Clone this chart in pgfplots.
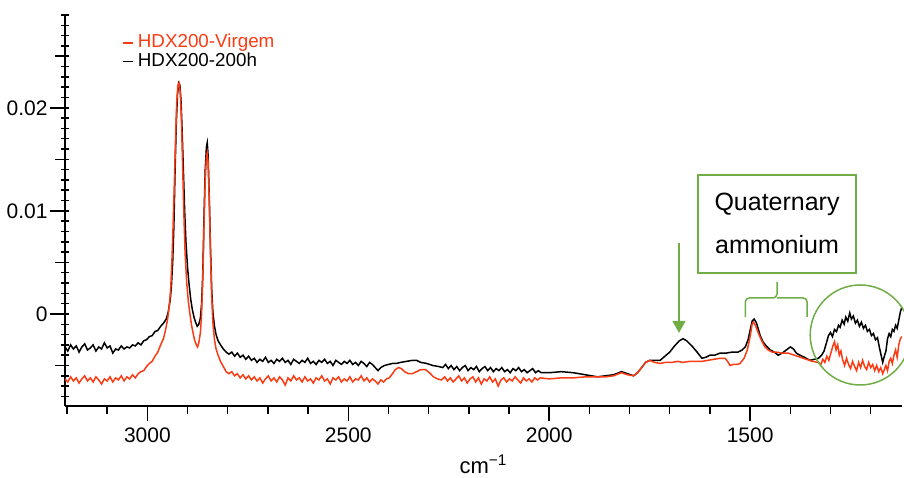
\documentclass[border=0pt]{standalone}
\usepackage{fontspec}
\setmainfont{Liberation Sans}
\usepackage{pgfplots}
\pgfplotsset{compat=1.18}
\usepackage{pgfplotstable}
\usetikzlibrary{arrows.meta}
\definecolor{hdxred}{RGB}{250,60,20}
\definecolor{hdxgreen}{RGB}{112,173,71}

% HDX200-200h (black)
\pgfplotstableread{
x y
3205 -0.0032
3198 -0.0036
3191 -0.0030
3184 -0.0034
3177 -0.0031
3170 -0.0037
3163 -0.0032
3156 -0.0029
3149 -0.0035
3142 -0.0033
3135 -0.0030
3128 -0.0036
3121 -0.0032
3114 -0.0034
3107 -0.0028
3100 -0.0033
3093 -0.0031
3086 -0.0038
3079 -0.0034
3072 -0.0035
3065 -0.0031
3058 -0.0034
3051 -0.0032
3044 -0.0033
3037 -0.0030
3030 -0.0031
3023 -0.0028
3016 -0.0030
3009 -0.0026
3002 -0.0025
2995 -0.0022
2988 -0.0021
2981 -0.0017
2974 -0.0016
2967 -0.0012
2960 -0.0009
2953 -0.0005
2948 0.0002
2943 0.0014
2940 0.0028
2937 0.0050
2934 0.0085
2931 0.0140
2928 0.0185
2925 0.0213
2922 0.0224
2919 0.0222
2916 0.0205
2913 0.0172
2910 0.0135
2907 0.0098
2904 0.0070
2900 0.0045
2896 0.0028
2892 0.0014
2888 0.0004
2884 -0.0003
2880 -0.0008
2876 -0.0012
2872 -0.0010
2868 -0.0004
2865 0.0010
2862 0.0040
2859 0.0095
2856 0.0140
2853 0.0162
2851 0.0166
2849 0.0155
2846 0.0115
2843 0.0065
2840 0.0025
2837 0.0002
2833 -0.0012
2829 -0.0020
2824 -0.0026
2818 -0.0030
2811 -0.0034
2804 -0.0037
2797 -0.0039
2790 -0.0037
2783 -0.0041
2776 -0.0038
2769 -0.0042
2762 -0.0040
2755 -0.0044
2748 -0.0041
2741 -0.0045
2734 -0.0043
2727 -0.0047
2720 -0.0044
2713 -0.0046
2706 -0.0042
2699 -0.0047
2692 -0.0045
2685 -0.0048
2678 -0.0044
2671 -0.0046
2664 -0.0043
2657 -0.0047
2650 -0.0045
2643 -0.0049
2636 -0.0044
2629 -0.0046
2622 -0.0048
2615 -0.0045
2608 -0.0047
2601 -0.0043
2594 -0.0048
2587 -0.0046
2580 -0.0049
2573 -0.0045
2566 -0.0047
2559 -0.0044
2552 -0.0048
2545 -0.0046
2538 -0.0050
2531 -0.0045
2524 -0.0047
2517 -0.0049
2510 -0.0046
2503 -0.0048
2496 -0.0045
2489 -0.0049
2482 -0.0047
2475 -0.0050
2468 -0.0046
2461 -0.0048
2454 -0.0051
2447 -0.0047
2440 -0.0049
2433 -0.0052
2426 -0.0055
2419 -0.0052
2410 -0.0050
2400 -0.0049
2390 -0.0048
2380 -0.0048
2370 -0.0047
2355 -0.0046
2340 -0.0045
2330 -0.0045
2320 -0.0047
2305 -0.0048
2290 -0.0050
2275 -0.0051
2265 -0.0052
2258 -0.0049
2251 -0.0053
2244 -0.0050
2237 -0.0054
2230 -0.0051
2223 -0.0055
2216 -0.0052
2209 -0.0050
2202 -0.0055
2195 -0.0052
2188 -0.0054
2181 -0.0051
2174 -0.0056
2167 -0.0053
2160 -0.0051
2153 -0.0055
2146 -0.0052
2139 -0.0056
2132 -0.0053
2125 -0.0055
2118 -0.0052
2111 -0.0056
2104 -0.0054
2097 -0.0057
2090 -0.0053
2083 -0.0055
2076 -0.0052
2069 -0.0056
2062 -0.0054
2055 -0.0057
2048 -0.0055
2041 -0.0053
2034 -0.0057
2027 -0.0055
2020 -0.0057
2000 -0.0057
1970 -0.0056
1940 -0.0057
1910 -0.0059
1880 -0.0061
1860 -0.0060
1840 -0.0059
1820 -0.0056
1805 -0.0058
1790 -0.0060
1780 -0.0057
1770 -0.0052
1760 -0.0047
1750 -0.0045
1735 -0.0045
1724 -0.0045
1712 -0.0041
1700 -0.0037
1688 -0.0031
1676 -0.0026
1667 -0.0024
1658 -0.0026
1645 -0.0031
1632 -0.0037
1620 -0.0043
1610 -0.0042
1600 -0.0040
1588 -0.0040
1575 -0.0038
1560 -0.0038
1545 -0.0037
1530 -0.0037
1520 -0.0035
1512 -0.0032
1505 -0.0025
1500 -0.0016
1495 -0.0007
1490 -0.0005
1485 -0.0008
1480 -0.0014
1475 -0.0021
1468 -0.0027
1460 -0.0031
1450 -0.0035
1440 -0.0037
1430 -0.0040
1420 -0.0038
1410 -0.0035
1400 -0.0032
1392 -0.0034
1385 -0.0038
1376 -0.0040
1365 -0.0042
1351 -0.0045
1340 -0.0044
1330 -0.0043
1322 -0.0040
1316 -0.0036
1310 -0.0028
1305 -0.0021
1300 -0.0018
1295 -0.0022
1290 -0.0015
1285 -0.0017
1280 -0.0011
1276 -0.0013
1271 -0.0006
1266 -0.0010
1262 -0.0003
1257 -0.0007
1252 0.0001
1248 -0.0005
1243 -0.0002
1238 -0.0009
1233 -0.0006
1228 -0.0012
1223 -0.0008
1218 -0.0014
1213 -0.0011
1208 -0.0017
1203 -0.0015
1198 -0.0021
1193 -0.0019
1188 -0.0025
1183 -0.0023
1178 -0.0033
1174 -0.0040
1170 -0.0047
1166 -0.0041
1162 -0.0036
1158 -0.0024
1154 -0.0019
1150 -0.0022
1146 -0.0015
1142 -0.0017
1138 -0.0011
1134 -0.0014
1130 -0.0006
1126 0.0002
1122 0.0007
}\blackdata

% HDX200-Virgem (red)
\pgfplotstableread{
x y
3205 -0.0063
3198 -0.0066
3191 -0.0061
3184 -0.0065
3177 -0.0062
3170 -0.0067
3163 -0.0063
3156 -0.0060
3149 -0.0065
3142 -0.0062
3135 -0.0066
3128 -0.0061
3121 -0.0064
3114 -0.0068
3107 -0.0063
3100 -0.0065
3093 -0.0061
3086 -0.0066
3079 -0.0062
3072 -0.0064
3065 -0.0060
3058 -0.0065
3051 -0.0061
3044 -0.0063
3037 -0.0059
3030 -0.0062
3023 -0.0058
3016 -0.0056
3009 -0.0055
3002 -0.0051
2995 -0.0048
2988 -0.0046
2981 -0.0041
2974 -0.0037
2967 -0.0030
2960 -0.0024
2955 -0.0016
2950 -0.0006
2946 0.0006
2942 0.0024
2939 0.0050
2936 0.0085
2933 0.0125
2930 0.0168
2927 0.0205
2924 0.0222
2921 0.0224
2918 0.0214
2915 0.0185
2912 0.0140
2909 0.0095
2906 0.0058
2902 0.0030
2898 0.0012
2894 0.0000
2890 -0.0011
2886 -0.0019
2882 -0.0026
2878 -0.0030
2875 -0.0032
2872 -0.0028
2868 -0.0018
2865 0.0000
2862 0.0035
2859 0.0085
2856 0.0130
2853 0.0152
2851 0.0156
2849 0.0148
2846 0.0110
2843 0.0060
2840 0.0018
2837 -0.0008
2833 -0.0025
2829 -0.0034
2824 -0.0040
2818 -0.0046
2811 -0.0051
2804 -0.0056
2797 -0.0058
2790 -0.0056
2783 -0.0060
2776 -0.0058
2769 -0.0062
2762 -0.0059
2755 -0.0063
2748 -0.0060
2741 -0.0064
2734 -0.0061
2727 -0.0065
2720 -0.0062
2713 -0.0067
2706 -0.0063
2699 -0.0060
2692 -0.0065
2685 -0.0062
2678 -0.0066
2671 -0.0061
2664 -0.0064
2657 -0.0069
2650 -0.0062
2643 -0.0065
2636 -0.0060
2629 -0.0064
2622 -0.0062
2615 -0.0066
2608 -0.0061
2601 -0.0065
2594 -0.0063
2587 -0.0067
2580 -0.0062
2573 -0.0064
2566 -0.0060
2559 -0.0065
2552 -0.0063
2545 -0.0068
2538 -0.0062
2531 -0.0064
2524 -0.0061
2517 -0.0066
2510 -0.0063
2503 -0.0065
2496 -0.0061
2489 -0.0066
2482 -0.0063
2475 -0.0064
2468 -0.0060
2461 -0.0065
2454 -0.0062
2447 -0.0066
2440 -0.0063
2433 -0.0065
2426 -0.0068
2419 -0.0064
2412 -0.0066
2405 -0.0063
2398 -0.0062
2390 -0.0058
2383 -0.0054
2375 -0.0052
2368 -0.0053
2360 -0.0056
2350 -0.0058
2341 -0.0058
2330 -0.0056
2320 -0.0054
2308 -0.0054
2298 -0.0057
2288 -0.0061
2278 -0.0063
2268 -0.0064
2260 -0.0061
2253 -0.0065
2246 -0.0062
2239 -0.0066
2232 -0.0063
2225 -0.0060
2218 -0.0065
2211 -0.0062
2204 -0.0067
2197 -0.0063
2190 -0.0061
2183 -0.0066
2176 -0.0062
2169 -0.0068
2162 -0.0063
2155 -0.0065
2148 -0.0061
2141 -0.0066
2134 -0.0063
2127 -0.0070
2120 -0.0064
2113 -0.0062
2106 -0.0066
2099 -0.0063
2092 -0.0065
2085 -0.0061
2078 -0.0064
2071 -0.0067
2064 -0.0062
2057 -0.0065
2050 -0.0063
2043 -0.0066
2036 -0.0062
2029 -0.0064
2022 -0.0062
2000 -0.0063
1970 -0.0062
1940 -0.0062
1910 -0.0061
1880 -0.0061
1860 -0.0061
1840 -0.0060
1820 -0.0057
1805 -0.0059
1790 -0.0060
1780 -0.0057
1770 -0.0052
1760 -0.0047
1750 -0.0045
1738 -0.0047
1724 -0.0048
1710 -0.0047
1695 -0.0047
1680 -0.0046
1667 -0.0047
1650 -0.0046
1635 -0.0046
1620 -0.0046
1605 -0.0045
1590 -0.0044
1575 -0.0043
1562 -0.0043
1556 -0.0046
1550 -0.0050
1542 -0.0049
1532 -0.0049
1525 -0.0048
1515 -0.0043
1507 -0.0035
1500 -0.0022
1495 -0.0010
1492 -0.0008
1488 -0.0010
1484 -0.0014
1478 -0.0020
1470 -0.0027
1463 -0.0032
1455 -0.0035
1445 -0.0037
1435 -0.0037
1420 -0.0038
1405 -0.0038
1390 -0.0040
1375 -0.0042
1360 -0.0044
1345 -0.0046
1330 -0.0047
1324 -0.0049
1319 -0.0044
1314 -0.0047
1309 -0.0041
1304 -0.0045
1299 -0.0038
1294 -0.0031
1290 -0.0027
1286 -0.0035
1282 -0.0030
1278 -0.0040
1274 -0.0036
1270 -0.0044
1265 -0.0050
1260 -0.0043
1255 -0.0049
1250 -0.0053
1245 -0.0046
1240 -0.0051
1235 -0.0055
1230 -0.0047
1225 -0.0052
1220 -0.0045
1215 -0.0051
1210 -0.0054
1205 -0.0047
1200 -0.0052
1195 -0.0049
1190 -0.0055
1185 -0.0050
1180 -0.0056
1175 -0.0052
1170 -0.0058
1166 -0.0054
1162 -0.0050
1158 -0.0055
1154 -0.0046
1150 -0.0043
1146 -0.0048
1142 -0.0040
1138 -0.0035
1134 -0.0042
1130 -0.0030
1126 -0.0024
1122 -0.0022
}\reddata

\begin{document}
\begin{tikzpicture}
\begin{axis}[
    scale only axis,
    width=418.5pt, height=195.5pt,
    x dir=reverse,
    xmin=1122, xmax=3205,
    ymin=-0.00893, ymax=0.0290,
    axis lines*=left,
    axis line style={line width=0.75pt},
    tick style={line width=0.75pt, black},
    tick align=outside,
    major tick length=7.5pt,
    minor tick length=4pt,
    every minor y tick/.append style={xshift=2pt},
    scaled y ticks=false,
    scaled x ticks=false,
    xtick={1500,2000,2500,3000},
    xticklabels={1500,2000,2500,3000},
    minor xtick={1200,1300,...,3200},
    ytick={0,0.01,0.02},
    yticklabels={0,0.01,0.02},
    minor ytick={-0.008,-0.007,...,0.0295},
    extra y ticks={-0.005,0.005,0.015,0.025},
    extra y tick labels={},
    extra y tick style={major tick length=5pt, scaled y ticks=false},
    tick label style={font=\fontsize{10.5}{12}\selectfont},
    yticklabel style={inner sep=1pt},
    /pgf/number format/assume math mode=true,
    xlabel={cm\textsuperscript{−1}},
    xlabel style={at={(axis description cs:0.5,0)}, anchor=center, yshift=-29pt,
        font=\fontsize{11}{13}\selectfont},
    clip mode=individual,
    reverse legend,
    legend style={draw=none, fill=none, at={(0.068,0.953)}, anchor=north west,
        font=\fontsize{9.4}{10}\selectfont, inner sep=0pt, row sep=0pt,
        column sep=1.5pt,
        nodes={inner sep=0.5pt, text height=6.6pt, text depth=1.7pt}},
    legend cell align=left,
    legend image code/.code={\draw[#1, line width=0.8pt] (0pt,0pt) -- (5pt,0pt);},
]
\addplot[black, line width=0.75pt, no markers] table[x=x, y=y] {\blackdata};
\addlegendentry{HDX200-200h}
\addplot[hdxred, line width=0.75pt, no markers] table[x=x, y=y] {\reddata};
\addlegendentry{\textcolor{hdxred}{HDX200-Virgem}}

% annotations
\node[draw=hdxgreen, line width=0.75pt, minimum width=79pt, minimum height=49pt,
      inner sep=0pt, align=center, font=\fontsize{12.5}{21.5}\selectfont]
      at (axis cs:1433,0.00874) {Quaternary\\ammonium};
\draw[hdxgreen, line width=0.75pt, rounded corners=2pt]
      (axis cs:1512,-0.00029) |- (axis cs:1433,0.00155) -- (axis cs:1433,0.00311);
\draw[hdxgreen, line width=0.75pt, rounded corners=2pt]
      (axis cs:1433,0.00155) -| (axis cs:1358,-0.00029);
\draw[hdxgreen, line width=0.75pt, -{Triangle[width=6.5pt,length=6pt]}]
      (axis cs:1677,0.00689) -- (axis cs:1677,-0.00184);
\draw[hdxgreen, line width=0.75pt] (axis cs:1226,-0.00204) circle[radius=25pt];
\end{axis}
\pgfresetboundingbox
\useasboundingbox (-32.5pt,-35.5pt) rectangle (419.5pt,203pt);
\end{tikzpicture}
\end{document}
